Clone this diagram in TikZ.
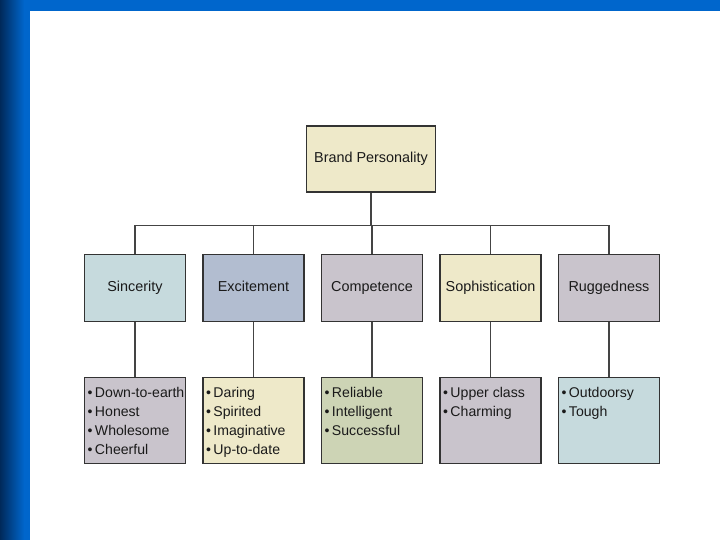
\documentclass[tikz,border=0pt]{standalone}
\usepackage{fontspec}
\setmainfont{Liberation Sans}
\definecolor{barblue}{HTML}{0066CC}
\definecolor{bardark}{HTML}{00295A}
\definecolor{boxline}{HTML}{333333}
\definecolor{connc}{HTML}{444444}
\definecolor{textc}{HTML}{1A1A1A}
\definecolor{cream}{HTML}{EEE9C9}
\definecolor{paleblue}{HTML}{C6DADD}
\definecolor{slate}{HTML}{B2BDD0}
\definecolor{mauve}{HTML}{C9C4CC}
\definecolor{olive}{HTML}{CDD4B5}
\newcommand\bitem[1]{\mbox{\makebox[7.5pt][l]{•}#1}}
\newcommand\blist[1]{\parbox[c][72pt][t]{95pt}{\raggedright\fontsize{14.1}{19}\selectfont\strut #1}}
\begin{document}
\begin{tikzpicture}[x=1pt,y=-1pt,
  box/.style={draw=boxline, line width=1.1pt, minimum width=101pt, minimum height=67.5pt,
    inner sep=0pt, text height=10.5pt, text depth=3pt, font=\fontsize{14.4}{18}\selectfont, text=textc},
  listbox/.style={draw=boxline, line width=1.1pt, minimum width=101pt, minimum height=86pt,
    inner xsep=3pt, inner ysep=7pt, text=textc},
  conn/.style={draw=connc, line width=1.3pt}]
\useasboundingbox (0,0) rectangle (720,540);
\fill[white] (0,0) rectangle (720,540);
\fill[barblue] (0,0) rectangle (720,11);
\shade[left color=bardark, right color=barblue] (0,0) rectangle (24,540);
\fill[barblue] (24,0) rectangle (30,540);

\node[box, fill=cream, minimum width=129pt, minimum height=66pt] (top) at (371,159) {Brand Personality};

\node[box, fill=paleblue] (m1) at (135,288) {Sincerity};
\node[box, fill=slate] (m2) at (253.5,288) {Excitement};
\node[box, fill=mauve] (m3) at (372,288) {Competence};
\node[box, fill=cream] (m4) at (490.5,288) {Sophistication};
\node[box, fill=mauve] (m5) at (609,288) {Ruggedness};

\node[listbox, fill=mauve] (l1) at (135,420.3) {\blist{\bitem{Down-to-earth}\\\bitem{Honest}\\\bitem{Wholesome}\\\bitem{Cheerful}}};
\node[listbox, fill=cream] (l2) at (253.5,420.3) {\blist{\bitem{Daring}\\\bitem{Spirited}\\\bitem{Imaginative}\\\bitem{Up-to-date}}};
\node[listbox, fill=olive] (l3) at (372,420.3) {\blist{\bitem{Reliable}\\\bitem{Intelligent}\\\bitem{Successful}}};
\node[listbox, fill=mauve] (l4) at (490.5,420.3) {\blist{\bitem{Upper class}\\\bitem{Charming}}};
\node[listbox, fill=paleblue] (l5) at (609,420.3) {\blist{\bitem{Outdoorsy}\\\bitem{Tough}}};

\coordinate (bus) at ([yshift=-33pt]top.south);
\foreach \i in {1,...,5}{
  \draw[conn] (top.south) -- (bus) -| (m\i.north);
  \draw[conn] (m\i.south) -- (l\i.north);
}
\end{tikzpicture}
\end{document}
